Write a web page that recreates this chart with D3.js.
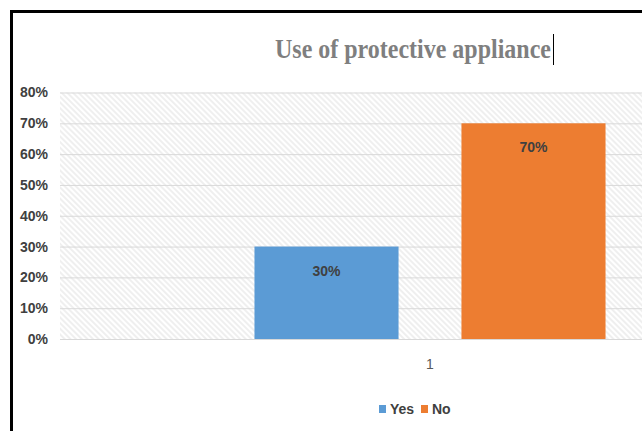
<!DOCTYPE html>
<html>
<head>
<meta charset="utf-8">
<script src="https://cdn.jsdelivr.net/npm/d3@7"></script>
<style>
  body { margin: 0; background: #fff; }
  svg { display: block; }
</style>
</head>
<body>
<div id="chart"></div>
<script>
// chart data
var categories = ["1"];
var seriesNames = ["Yes", "No"];
var seriesValues = [0.30, 0.70];
var yTicks = [0, 0.1, 0.2, 0.3, 0.4, 0.5, 0.6, 0.7, 0.8];
var colors = ["#5b9bd5", "#ed7d31"];

var W = 642, H = 431;
var margin = {top: 92.5, left: 60},
    width = 740,
    height = 339 - margin.top;

var svg = d3.select("#chart")
    .append("svg")
    .attr("width", W)
    .attr("height", H);

// hatch pattern of the plot area
var defs = svg.append("defs");
defs.append("pattern")
    .attr("id", "hatch")
    .attr("patternUnits", "userSpaceOnUse")
    .attr("width", 4)
    .attr("height", 4)
    .attr("patternTransform", "rotate(-45)")
    .append("line")
    .attr("x1", 1).attr("y1", 0)
    .attr("x2", 1).attr("y2", 4)
    .attr("stroke", "#e4e4e4")
    .attr("stroke-width", 1.2);

// frame (only left/top visible)
svg.append("rect")
    .attr("x", 11.5).attr("y", 11.5)
    .attr("width", 800).attr("height", 600)
    .attr("fill", "none")
    .attr("stroke", "#000")
    .attr("stroke-width", 3);

var g = svg.append("g")
    .attr("transform", "translate(" + margin.left + "," + margin.top + ")");

// scales
var y = d3.scaleLinear()
    .domain([0, 0.8])
    .range([height, 0]);

var x0 = d3.scaleBand()
    .domain(categories)
    .range([0, width])
    .paddingInner(0)
    .paddingOuter(0.554);

var x1 = d3.scaleBand()
    .domain(seriesNames)
    .range([0, x0.bandwidth()])
    .paddingInner(0.304)
    .paddingOuter(0);

g.append("rect")
    .attr("x", 0).attr("y", 0)
    .attr("width", width).attr("height", height)
    .attr("fill", "url(#hatch)");

// gridlines
g.append("g")
    .call(d3.axisLeft(y).tickValues(yTicks).tickSize(-width).tickFormat(""))
    .call(function (a) {
        a.select(".domain").remove();
        a.selectAll("line").attr("stroke", "#d9d9d9").attr("stroke-width", 1);
    });

// y axis labels
g.append("g")
    .call(d3.axisLeft(y).tickValues(yTicks).tickSize(0).tickPadding(12)
        .tickFormat(function (d) { return Math.round(d * 100) + "%"; }))
    .call(function (a) {
        a.select(".domain").remove();
        a.selectAll("text")
            .attr("fill", "#404040")
            .style("font-family", "Liberation Sans, Arial, sans-serif")
            .style("font-weight", "bold")
            .style("font-size", "14px");
    });

// bars
var bars = g.selectAll(".cat")
    .data(categories)
    .enter()
    .append("g")
    .attr("transform", function (d) { return "translate(" + x0(d) + ",0)"; });

bars.selectAll("rect")
    .data(seriesNames.map(function (s, i) { return {key: s, value: seriesValues[i], i: i}; }))
    .enter()
    .append("rect")
    .attr("x", function (d) { return x1(d.key); })
    .attr("y", function (d) { return y(d.value); })
    .attr("width", x1.bandwidth())
    .attr("height", function (d) { return height - y(d.value); })
    .attr("fill", function (d) { return colors[d.i]; });

bars.selectAll(".lbl")
    .data(seriesNames.map(function (s, i) { return {key: s, value: seriesValues[i]}; }))
    .enter()
    .append("text")
    .attr("class", "lbl")
    .attr("x", function (d) { return x1(d.key) + x1.bandwidth() / 2; })
    .attr("y", function (d) { return y(d.value) + 29; })
    .attr("text-anchor", "middle")
    .attr("fill", "#404040")
    .style("font-family", "Liberation Sans, Arial, sans-serif")
    .style("font-weight", "bold")
    .style("font-size", "14px")
    .text(function (d) { return Math.round(d.value * 100) + "%"; });

// category axis label
g.append("g")
    .attr("transform", "translate(0," + height + ")")
    .call(d3.axisBottom(x0).tickSize(0).tickPadding(20))
    .call(function (a) {
        a.select(".domain").remove();
        a.selectAll("text")
            .attr("fill", "#595959")
            .style("font-family", "Liberation Sans, Arial, sans-serif")
            .style("font-size", "14px");
    });

// title
svg.append("text")
    .attr("x", 413)
    .attr("y", 58)
    .attr("text-anchor", "middle")
    .attr("fill", "#7f7f7f")
    .attr("textLength", 276)
    .attr("lengthAdjust", "spacingAndGlyphs")
    .style("font-family", "Liberation Serif, Times New Roman, serif")
    .style("font-weight", "bold")
    .style("font-size", "28px")
    .text("Use of protective appliance");

// text cursor after title
svg.append("line")
    .attr("x1", 553.5).attr("x2", 553.5)
    .attr("y1", 34).attr("y2", 65)
    .attr("stroke", "#000")
    .attr("stroke-width", 1);

// legend
var legend = svg.append("g")
    .attr("transform", "translate(379,409)");

var legX = [0, 42];
legend.selectAll("rect")
    .data(seriesNames)
    .enter()
    .append("rect")
    .attr("x", function (d, i) { return legX[i]; })
    .attr("y", -4)
    .attr("width", 7)
    .attr("height", 8)
    .attr("fill", function (d, i) { return colors[i]; });

legend.selectAll("text")
    .data(seriesNames)
    .enter()
    .append("text")
    .attr("x", function (d, i) { return legX[i] + 11; })
    .attr("y", 5)
    .attr("fill", "#404040")
    .style("font-family", "Liberation Sans, Arial, sans-serif")
    .style("font-weight", "bold")
    .style("font-size", "14px")
    .text(function (d) { return d; });
</script>
</body>
</html>
